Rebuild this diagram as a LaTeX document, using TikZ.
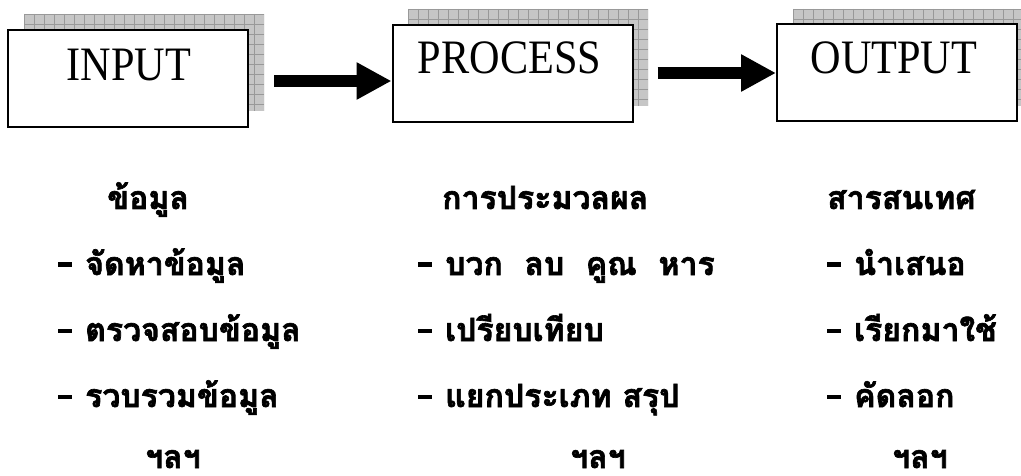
\documentclass[tikz,border=0pt]{standalone}
\usepackage{fontspec}
\setmainfont{Liberation Serif}
\newfontfamily\boxfont[FakeStretch=0.88]{Liberation Serif}
\newfontfamily\thaifont[Script=Thai, BoldFeatures={FakeBold=2}]{Loma}
\newcommand\tdash{\rule[8pt]{14pt}{4.5pt}\hspace{13pt}}
\usetikzlibrary{arrows.meta,calc}
\tikzset{
  procbox/.style={draw=black, line width=2pt, fill=white, minimum width=240pt, minimum height=97pt, inner sep=0pt},
  boxlabel/.style={font=\boxfont\fontsize{48}{52}\selectfont, anchor=base, inner sep=0pt},
  thai/.style={font=\thaifont\bfseries\fontsize{32}{38}\selectfont, anchor=base west, inner sep=0pt},
  bigarrow/.style={line width=12pt, -{Triangle[length=35pt,width=35pt]}},
  shadowfill/.style={fill=gray!45},
  shadowgrid/.style={draw=gray!80, line width=0.6pt},
}
\begin{document}
\begin{tikzpicture}[x=1pt,y=-1pt]
\useasboundingbox (0,0) rectangle (1021,476);
% shadows
\foreach \sx/\sy in {24/14, 408/9, 793/9}{
  \begin{scope}
    \clip (\sx,\sy) rectangle ++(240,97);
    \fill[shadowfill] (\sx,\sy) rectangle ++(240,97);
    \foreach \i in {0,10,...,240} \draw[shadowgrid] (\sx+\i,\sy) -- ++(0,97);
    \foreach \j in {0,10,...,90} \draw[shadowgrid] (\sx,\sy+\j) -- ++(240,0);
  \end{scope}
}
% boxes
\node[procbox] (inbox)  at (128,78.5) {};
\node[procbox] (procbox) at (512.5,73.5) {};
\node[procbox] (outbox) at (897,73) {};
\node[boxlabel] (intext) at ($(inbox.north)+(1,52)$) {INPUT};
\node[boxlabel] (proctext) at ($(procbox.north)+(-3,50)$) {PROCESS};
\node[boxlabel] (outtext) at ($(outbox.north)+(-3,50)$) {OUTPUT};
% arrows
\coordinate (a1) at ($(inbox.east)+(25,2.5)$);
\coordinate (a2) at ($(procbox.east)+(24,-0.5)$);
\draw[bigarrow] (a1) -- (procbox.west |- a1);
\draw[bigarrow] (a2) -- (outbox.west |- a2);
% column 1
\node[thai] (c1h) at (107,209) {ข้อมูล};
\node[thai] (c1a) at (58,275) {\tdash จัดหาข้อมูล};
\node[thai] (c1b) at (58,341) {\tdash ตรวจสอบข้อมูล};
\node[thai] (c1c) at (58,407) {\tdash รวบรวมข้อมูล};
\node[thai] (c1d) at (145,468) {ฯลฯ};
% column 2
\node[thai] (c2h) at (442,209) {การประมวลผล};
\node[thai] (c2a) at (418,275) {\tdash บวก\ \ ลบ\ \ คูณ\ \ หาร};
\node[thai] (c2b) at (418,341) {\tdash เปรียบเทียบ};
\node[thai] (c2c) at (418,407) {\tdash แยกประเภท สรุป};
\node[thai] (c2d) at (570,468) {ฯลฯ};
% column 3
\node[thai] (c3h) at (827,209) {สารสนเทศ};
\node[thai] (c3a) at (827,275) {\tdash นำเสนอ};
\node[thai] (c3b) at (827,341) {\tdash เรียกมาใช้};
\node[thai] (c3c) at (827,407) {\tdash คัดลอก};
\node[thai] (c3d) at (892,468) {ฯลฯ};
\end{tikzpicture}
\end{document}
